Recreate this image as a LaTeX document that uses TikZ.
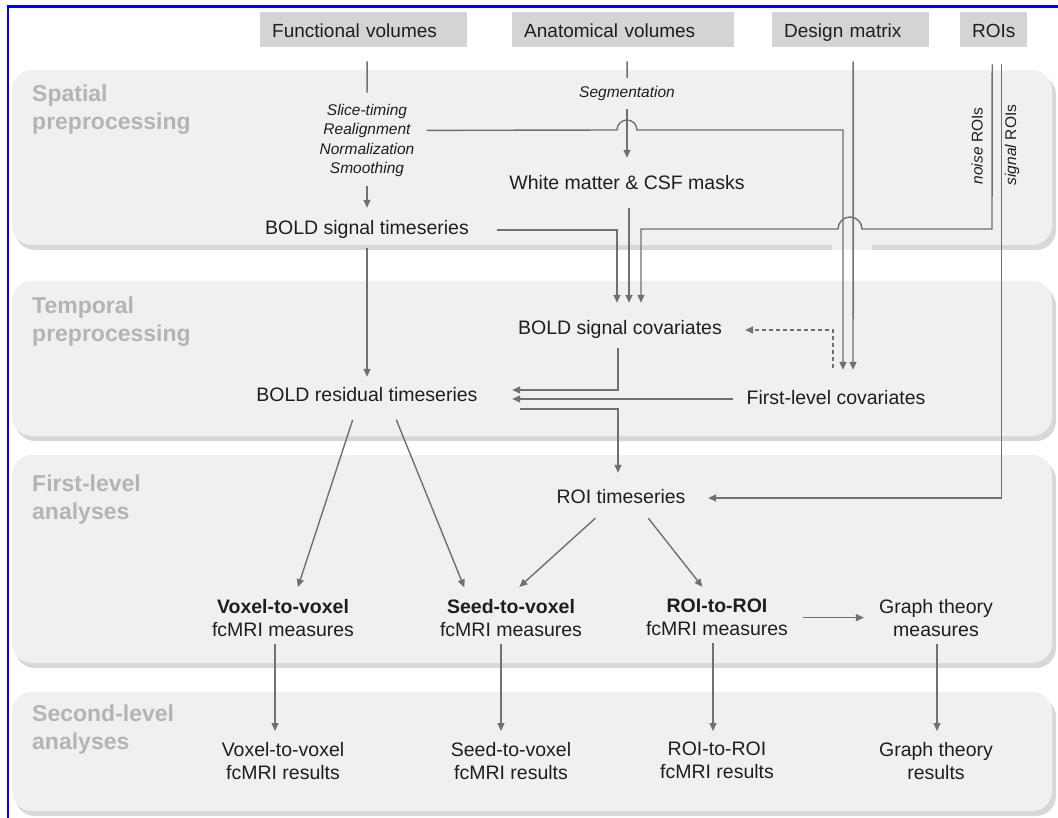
\documentclass[tikz,border=0pt]{standalone}
\usepackage{fontspec}
\setmainfont{Liberation Sans}
\usetikzlibrary{arrows.meta}
\definecolor{panel}{HTML}{F0F0F0}
\definecolor{shadowc}{HTML}{D8D8D8}
\definecolor{hdr}{HTML}{D4D4D4}
\definecolor{lnc}{HTML}{707070}
\definecolor{sec}{HTML}{B4B4B4}
\definecolor{txt}{HTML}{1E1E1E}
\newcommand{\hdrstrut}{\rule[-4.5pt]{0pt}{24pt}}
\begin{document}
\begin{tikzpicture}[x=1pt,y=-1pt,
 panelbox/.style={fill=panel, rounded corners=20pt},
 shadowbox/.style={fill=shadowc, rounded corners=20pt},
 hdrbox/.style={fill=hdr, anchor=north west, minimum height=35pt, inner xsep=12pt, inner ysep=0pt, align=left, text=txt, font=\fontsize{19}{23}\selectfont, execute at begin node=\hdrstrut},
 seclabel/.style={anchor=north west, inner sep=0pt, align=left, text=sec, font=\fontsize{23}{28}\selectfont\bfseries},
 txtnode/.style={inner sep=0pt, text=txt, font=\fontsize{19.5}{23}\selectfont, text height=14.5pt, text depth=4.5pt},
 multi/.style={inner sep=0pt, align=center, text=txt, font=\fontsize{19.5}{23}\selectfont, anchor=north},
 ital/.style={inner sep=0pt, align=center, text=txt, font=\fontsize{15.5}{19.3}\selectfont\itshape},
 rotlbl/.style={inner sep=0pt, rotate=90, text=txt, font=\fontsize{15.5}{18}\selectfont},
 ln/.style={draw=lnc, line width=1.4pt},
 arr/.style={ln, -{Triangle[length=8pt,width=7pt]}},
 dasharr/.style={arr, dash pattern=on 4pt off 3pt},
]
\useasboundingbox (0,0) rectangle (1058,818);
\fill[white] (0,0) rectangle (1058,818);

% panels
\fill[shadowbox] (15,75) rectangle (1056,250);
\fill[panelbox] (12,70) rectangle (1052,245);
\fill[panel] (832,244) rectangle (872,250);
\fill[shadowbox] (15,286) rectangle (1056,441);
\fill[panelbox] (12,281) rectangle (1052,436);
\fill[shadowbox] (15,460) rectangle (1056,668);
\fill[panelbox] (12,455) rectangle (1052,663);
\fill[shadowbox] (15,697) rectangle (1056,816);
\fill[panelbox] (12,692) rectangle (1052,811);

% frame
\draw[blue, line width=2.6pt] (1058,6.5) -- (8,6.5) -- (8,818);

% section labels
\node[seclabel] (s1) at (32,85) {Spatial\\preprocessing};
\node[seclabel] (s2) at (32,297) {Temporal\\preprocessing};
\node[seclabel] (s3) at (32,475) {First-level\\analyses};
\node[seclabel] (s4) at (32,705) {Second-level\\analyses};

% header boxes
\node[hdrbox, text width=183pt] (fv) at (260,12) {Functional volumes};
\node[hdrbox, text width=198pt] (av) at (512,12) {Anatomical volumes};
\node[hdrbox, text width=133pt] (dm) at (772,12) {Design matrix};
\node[hdrbox, text width=43pt] (roi) at (960,12) {ROIs};

% nodes
\node[ital, anchor=north] (steps) at (367,104) {Slice-timing\\Realignment\\Normalization\\Smoothing};
\node[ital, text height=11pt, text depth=3.5pt] (seg) at (627,94) {Segmentation};
\node[txtnode] (bst) at (367,230) {BOLD signal timeseries};
\node[txtnode] (wm) at (627,185) {White matter \& CSF masks};
\node[txtnode] (bsc) at (620,330) {BOLD signal covariates};
\node[txtnode] (flc) at (836,399) {First-level covariates};
\node[txtnode] (brt) at (367,397) {BOLD residual timeseries};
\node[txtnode] (rts) at (621,498) {ROI timeseries};
\node[rotlbl] (noiselbl) at (977,146) {\textit{noise} ROIs};
\node[rotlbl] (signallbl) at (1012,145) {\textit{signal} ROIs};

\node[multi] (vv) at (283,599) {\textbf{Voxel-to-voxel}\\fcMRI measures};
\node[multi] (sv) at (511,599) {\textbf{Seed-to-voxel}\\fcMRI measures};
\node[multi] (rr) at (717,599) {\textbf{ROI-to-ROI}\\fcMRI measures};
\node[multi] (gt) at (936,599) {Graph theory\\measures};
\node[multi] (vvr) at (283,742) {Voxel-to-voxel\\fcMRI results};
\node[multi] (svr) at (511,742) {Seed-to-voxel\\fcMRI results};
\node[multi] (rrr) at (717,742) {ROI-to-ROI\\fcMRI results};
\node[multi] (gtr) at (936,742) {Graph theory\\results};

% spatial preprocessing
\draw[ln, shorten <=14pt, shorten >=11pt] ([xshift=3.5pt]fv.south) -- (steps.north);
\draw[arr, shorten <=8.8pt, shorten >=12.5pt] (steps.south) -- (bst.north);
\draw[ln, shorten <=14pt, shorten >=8.75pt] ([xshift=4pt]av.south) -- (seg.north);
\draw[arr, shorten <=8pt, shorten >=17.5pt] (seg.south) -- (wm.north);
% realignment to first-level covariates (hop over segmentation arrow)
\draw[arr, shorten >=19.5pt] ([xshift=12pt,yshift=10pt]steps.east) -- (617,130)
  arc[start angle=180, end angle=0, radius=10pt] -| ([xshift=7pt]flc.north);
% design matrix
\draw[arr, shorten <=14pt, shorten >=19.5pt] ([xshift=2.5pt]dm.south) -- ([xshift=17pt]flc.north);
% BOLD signal timeseries to covariates
\draw[arr, shorten <=28pt, shorten >=17.5pt] (bst.east) -| ([xshift=-3pt]bsc.north);
% masks to covariates
\draw[arr, shorten <=13.5pt, shorten >=17.5pt] ([xshift=2pt]wm.south) -- ([xshift=9pt]bsc.north);
% noise ROIs
\draw[arr, shorten >=17.5pt] ([xshift=-1.5pt,yshift=-17pt]roi.south) -- (992,229) -- (862,229)
  arc[start angle=0, end angle=180, radius=12pt] -| ([xshift=21pt]bsc.north);
% signal ROIs
\draw[arr, shorten <=17pt, shorten >=22.5pt] ([xshift=7.5pt]roi.south) |- (rts.east);

% temporal preprocessing
\draw[arr, shorten <=8.5pt, shorten >=10.5pt] (bst.south) -- (brt.north);
\draw[dasharr, shorten <=21.5pt, shorten >=23pt] ([xshift=-3pt]flc.north) |- (bsc.east);
\draw[arr, shorten <=8.5pt, shorten >=34.5pt] ([xshift=-2pt]bsc.south) |- ([yshift=7pt]brt.east);
\draw[arr, shorten <=13.5pt, shorten >=34.5pt] (flc.west) -- (flc.west -| brt.east);
\draw[arr, shorten <=42.5pt, shorten >=15.5pt] ([yshift=-12pt]brt.east) -| ([xshift=-3pt]rts.north);

% first-level analyses
\draw[arr, shorten <=14pt, shorten >=12.5pt] ([xshift=-10pt]brt.south) -- ([xshift=11pt]vv.north);
\draw[arr, shorten <=14pt, shorten >=12.5pt] ([xshift=24pt]brt.south) -- ([xshift=-42pt]sv.north);
\draw[arr, shorten <=15.5pt, shorten >=18pt] ([xshift=-14pt]rts.south) -- ([xshift=-5pt]sv.north);
\draw[arr, shorten <=13.5pt, shorten >=15.5pt] ([xshift=19pt]rts.south) -- ([xshift=-5pt]rr.north);
\draw[arr, shorten <=15pt, shorten >=15pt] (rr.east) -- (rr.east -| gt.west);

% second-level
\draw[arr, shorten <=7pt, shorten >=11pt] ([xshift=-8pt]vv.south) -- ([xshift=-8pt]vvr.north);
\draw[arr, shorten <=7pt, shorten >=11pt] ([xshift=-10pt]sv.south) -- ([xshift=-10pt]svr.north);
\draw[arr, shorten <=7pt, shorten >=11pt] ([xshift=-4pt]rr.south) -- ([xshift=-4pt]rrr.north);
\draw[arr, shorten <=7pt, shorten >=11pt] ([xshift=1pt]gt.south) -- ([xshift=1pt]gtr.north);
\end{tikzpicture}
\end{document}
